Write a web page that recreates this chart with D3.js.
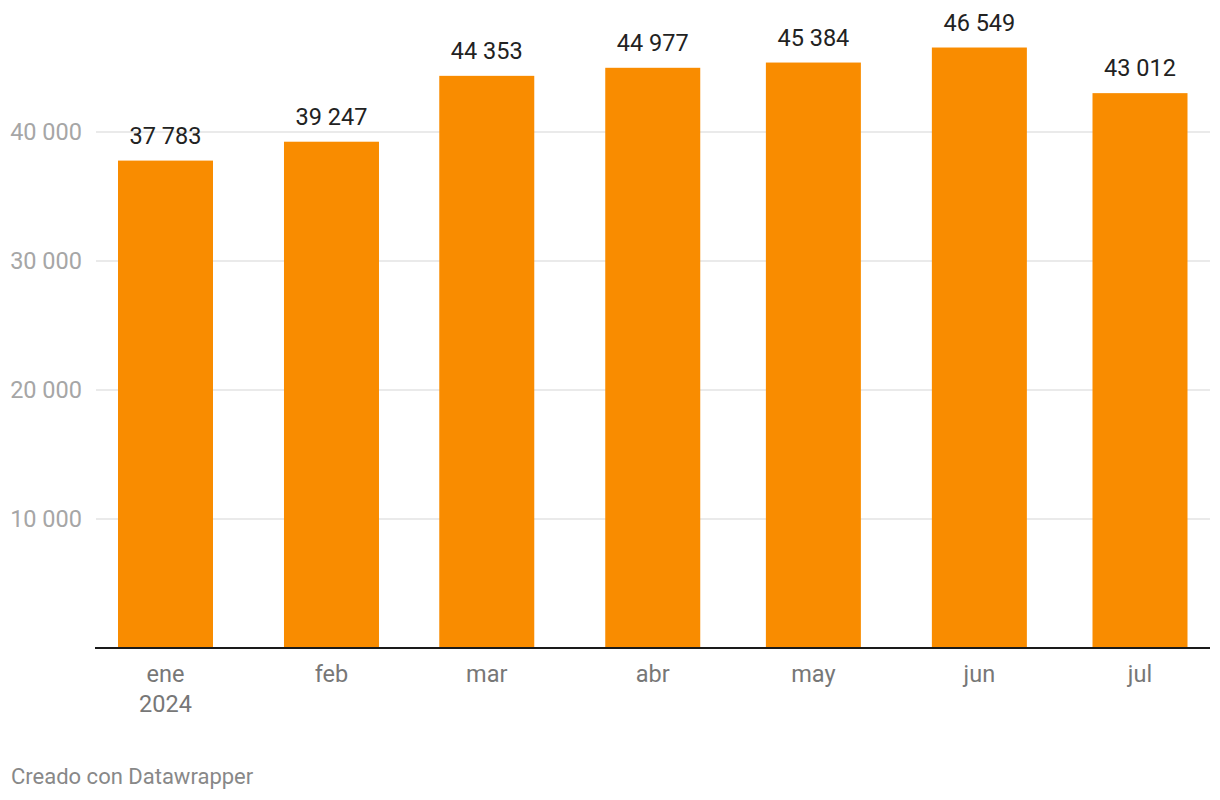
<!DOCTYPE html>
<html>
<head>
<meta charset="utf-8">
<script src="https://cdn.jsdelivr.net/npm/d3@7"></script>
<style>
  body { margin: 0; background: #fff; font-family: Roboto, "Noto Sans", sans-serif; }
  #chart svg { display: block; }
</style>
</head>
<body>
<div id="chart"></div>
<script>
// data
const monthDates = ["2024-01-01", "2024-02-01", "2024-03-01", "2024-04-01", "2024-05-01", "2024-06-01", "2024-07-01"];
const monthLabels = ["ene", "feb", "mar", "abr", "may", "jun", "jul"];
const values = [37783, 39247, 44353, 44977, 45384, 46549, 43012];
const yTicks = [10000, 20000, 30000, 40000];

const W = 1220, H = 800;
const parse = d3.utcParse("%Y-%m-%d");
const rows = monthDates.map((d, i) => ({ date: parse(d), label: monthLabels[i], value: values[i] }));

const locale = d3.formatLocale({ decimal: ",", thousands: "\u00a0", grouping: [3], currency: ["", " €"] });
const fmt = locale.format(",d");

const svg = d3.select("#chart").append("svg")
    .attr("width", W)
    .attr("height", H);

// bars sit centred on the first day of each month
const x = d3.scaleUtc()
    .domain(d3.extent(rows, d => d.date))
    .range([165.5, 1140]);

const y = d3.scaleLinear()
    .domain([0, 40000])
    .range([648, 132]);

const barW = 95;

// gridlines
svg.append("g")
    .selectAll("line")
    .data(yTicks)
    .join("line")
    .attr("x1", 96)
    .attr("x2", 1210)
    .attr("y1", d => y(d))
    .attr("y2", d => y(d))
    .attr("stroke", "#e3e3e3")
    .attr("stroke-width", 1.5);

// y labels
svg.append("g")
    .selectAll("text")
    .data(yTicks)
    .join("text")
    .attr("x", 82)
    .attr("y", d => y(d))
    .attr("dy", "0.36em")
    .attr("text-anchor", "end")
    .attr("fill", "#a6a6a6")
    .attr("font-size", 23.5)
    .text(d => fmt(d));

// bars
svg.append("g")
    .selectAll("rect")
    .data(rows)
    .join("rect")
    .attr("x", d => x(d.date) - barW / 2)
    .attr("width", barW)
    .attr("y", d => y(d.value))
    .attr("height", d => y(0) - y(d.value))
    .attr("fill", "#f98c00");

// value labels
svg.append("g")
    .selectAll("text")
    .data(rows)
    .join("text")
    .attr("x", d => x(d.date))
    .attr("y", d => y(d.value) - 17)
    .attr("text-anchor", "middle")
    .attr("fill", "#222")
    .attr("font-size", 23.5)
    .text(d => fmt(d.value));

// baseline
svg.append("line")
    .attr("x1", 95)
    .attr("x2", 1210)
    .attr("y1", y(0))
    .attr("y2", y(0))
    .attr("stroke", "#1a1a1a")
    .attr("stroke-width", 2);

// x labels
const xl = svg.append("g")
    .selectAll("text")
    .data(rows)
    .join("text")
    .attr("x", d => x(d.date))
    .attr("y", 682)
    .attr("text-anchor", "middle")
    .attr("fill", "#777")
    .attr("font-size", 23.5);

xl.append("tspan").text(d => d.label);
xl.filter((d, i) => i === 0)
    .append("tspan")
    .attr("x", d => x(d.date))
    .attr("dy", 30)
    .text(d => d.date.getUTCFullYear());

// footer
svg.append("text")
    .attr("x", 11)
    .attr("y", 784)
    .attr("fill", "#888")
    .attr("font-size", 22)
    .text("Creado con Datawrapper");
</script>
</body>
</html>
